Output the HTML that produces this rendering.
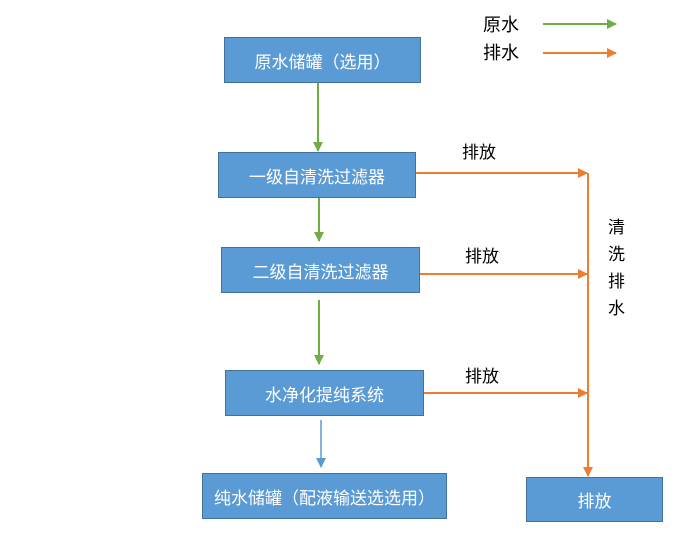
<!DOCTYPE html>
<html><head><meta charset="utf-8"><style>
body{margin:0;width:700px;height:545px;background:#fff;position:relative;overflow:hidden;font-family:"Liberation Sans","Noto Sans CJK SC",sans-serif}
.b{position:absolute;background:#5b9bd5;border:1px solid #41719c;color:#fff;font-size:17px;display:flex;align-items:center;justify-content:center;box-sizing:border-box}
.t{position:absolute;font-size:17px;color:#000;line-height:1}
svg{position:absolute;left:0;top:0}
</style></head><body>
<svg width="700" height="545">
<defs>
<marker id="g" markerWidth="10" markerHeight="10" refX="9" refY="5" orient="auto" markerUnits="userSpaceOnUse"><path d="M0,0 L10,5 L0,10z" fill="#70ad47"/></marker>
<marker id="o" markerWidth="10" markerHeight="10" refX="9" refY="5" orient="auto" markerUnits="userSpaceOnUse"><path d="M0,0 L10,5 L0,10z" fill="#ed7d31"/></marker>
<marker id="u" markerWidth="10" markerHeight="10" refX="9" refY="5" orient="auto" markerUnits="userSpaceOnUse"><path d="M0,0 L10,5 L0,10z" fill="#5b9bd5"/></marker>
</defs>
<g stroke-width="2" fill="none">
<line x1="543" y1="24" x2="616" y2="24" stroke="#70ad47" marker-end="url(#g)"/>
<line x1="543" y1="53" x2="616" y2="53" stroke="#ed7d31" marker-end="url(#o)"/>
<line x1="318" y1="82" x2="318" y2="151" stroke="#70ad47" marker-end="url(#g)"/>
<line x1="319" y1="197" x2="319" y2="241" stroke="#70ad47" marker-end="url(#g)"/>
<line x1="319" y1="300" x2="319" y2="364" stroke="#70ad47" marker-end="url(#g)"/>
<line x1="321" y1="420" x2="321" y2="467" stroke="#5b9bd5" stroke-width="1.5" marker-end="url(#u)"/>
<line x1="416" y1="173" x2="587" y2="173" stroke="#ed7d31" marker-end="url(#o)"/>
<line x1="420" y1="274" x2="587" y2="274" stroke="#ed7d31" marker-end="url(#o)"/>
<line x1="424" y1="393" x2="587" y2="393" stroke="#ed7d31" marker-end="url(#o)"/>
<line x1="588" y1="173" x2="588" y2="476" stroke="#ed7d31" marker-end="url(#o)"/>
</g></svg>
<div class="b" style="left:224px;top:37px;width:197px;height:46px">原水储罐（选用）</div>
<div class="b" style="left:218px;top:152px;width:198px;height:46px">一级自清洗过滤器</div>
<div class="b" style="left:221px;top:247px;width:199px;height:46px">二级自清洗过滤器</div>
<div class="b" style="left:225px;top:370px;width:199px;height:46px">水净化提纯系统</div>
<div class="b" style="left:202px;top:473px;width:245px;height:46px">纯水储罐（配液输送选选用）</div>
<div class="b" style="left:526px;top:477px;width:137px;height:45px">排放</div>
<div class="t" style="left:483px;top:16px;font-size:18px">原水</div>
<div class="t" style="left:483px;top:44px;font-size:18px">排水</div>
<div class="t" style="left:462px;top:144px">排放</div>
<div class="t" style="left:465px;top:248px">排放</div>
<div class="t" style="left:465px;top:368px">排放</div>
<div class="t" style="left:608px;top:214px;width:18px;line-height:27px">清<br>洗<br>排<br>水</div>
</body></html>
